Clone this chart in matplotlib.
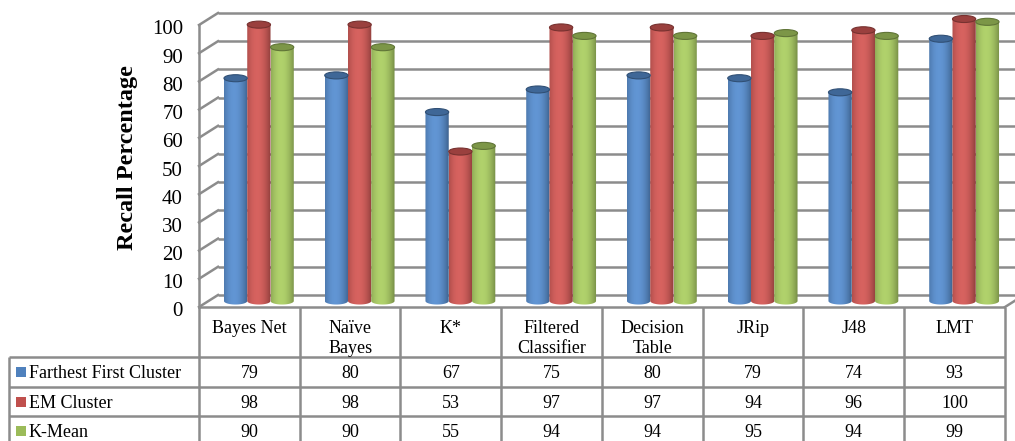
import numpy as np
import matplotlib
matplotlib.use("Agg")
import matplotlib.pyplot as plt
from matplotlib import transforms
from matplotlib.patches import Ellipse, Rectangle, PathPatch
from matplotlib.path import Path
from matplotlib.colors import to_rgb

# data
categories = ["Bayes Net", "Naïve\nBayes", "K*", "Filtered\nClassifier",
              "Decision\nTable", "JRip", "J48", "LMT"]
series_names = ["Farthest First Cluster", "EM Cluster", "K-Mean"]
farthest_first = [79, 80, 67, 75, 80, 79, 74, 93]
em_cluster = [98, 98, 53, 97, 97, 94, 96, 100]
k_mean = [90, 90, 55, 94, 94, 95, 94, 99]
series = [farthest_first, em_cluster, k_mean]
series_colors = ["#4F81BD", "#C0504D", "#9BBB59"]
yticks = list(range(0, 101, 10))

plt.rcParams['font.family'] = ['Liberation Serif', 'DejaVu Serif']

W, H = 1015, 441
fig = plt.figure(figsize=(W / 100, H / 100), dpi=100)

# front face of the 3-D box, in pixels
x0, x1 = 199, 1005
y0, y100 = 307, 25
ax = fig.add_axes([x0 / W, 1 - y0 / H, (x1 - x0) / W, (y0 - y100) / H])
ax.axis('off')

# depth offsets (mid plane for the cylinders, back wall for the grid)
mid = ax.transData + transforms.ScaledTranslation(0.095, 0.06, fig.dpi_scale_trans)
back = ax.transData + transforms.ScaledTranslation(0.19, 0.12, fig.dpi_scale_trans)
ident = transforms.IdentityTransform()

grid_c = "#8c8c8c"
ncat = len(categories)
ax.set_xlim(0, ncat)
ax.set_ylim(0, 100)
fig.canvas.draw()

# back wall grid + side wall diagonals
tick_tr = ax.transData + transforms.ScaledTranslation(-0.16, -0.05, fig.dpi_scale_trans)
for v in yticks:
    ax.plot([0, ncat], [v, v], color=grid_c, lw=1.8, transform=back,
            clip_on=False, zorder=1, solid_capstyle='butt')
    pf = ax.transData.transform((0, v))
    pb = back.transform((0, v))
    ax.plot([pf[0], pb[0]], [pf[1], pb[1]], color=grid_c, lw=1.8,
            transform=ident, clip_on=False, zorder=1)
    ax.text(0, v, str(v), transform=tick_tr, ha='right', va='center', fontsize=15)
# front vertical edge and right floor edge
pa = ax.transData.transform((0, 0))
pt = ax.transData.transform((0, 100))
ax.plot([pa[0], pt[0]], [pa[1], pt[1]], color=grid_c, lw=1.8, transform=ident,
        clip_on=False, zorder=1)
pr = ax.transData.transform((ncat, 0))
prb = back.transform((ncat, 0))
ax.plot([pr[0], prb[0]], [pr[1], prb[1]], color=grid_c, lw=1.8, transform=ident,
        clip_on=False, zorder=1)

# cylinders
bw = 0.231
eh = 2.5
t = np.linspace(0, 1, 64)
s = np.clip(np.cos(np.pi * (t - 0.42) / 1.3), 0, 1) ** 0.8
arc = np.linspace(np.pi, 2 * np.pi, 30)
for j, (vals, col) in enumerate(zip(series, series_colors)):
    base = np.array(to_rgb(col))
    dark = base * 0.62
    light = np.clip(base * 1.04 + 0.06, 0, 1)
    grad = dark[None, :] + (light - dark)[None, :] * s[:, None]
    img = grad[None, :, :]
    for i, v in enumerate(vals):
        cx = i + 0.5 + (j - 1) * bw
        # body outline: straight sides, rounded bottom
        bottom = np.column_stack([cx + bw / 2 * np.cos(arc), eh / 2 * np.sin(arc)])
        verts = np.vstack([[cx - bw / 2, v], bottom, [cx + bw / 2, v],
                           [cx - bw / 2, v]])
        clip = PathPatch(Path(verts, closed=True), transform=mid,
                         facecolor='none', edgecolor='none')
        ax.add_patch(clip)
        im = ax.imshow(img, extent=(cx - bw / 2, cx + bw / 2, -eh / 2, v),
                       aspect='auto', transform=mid, zorder=3,
                       interpolation='bilinear')
        im.set_clip_path(clip)
        im.set_clip_box(fig.bbox)
        ax.add_patch(Ellipse((cx, v), bw, eh, facecolor=base * 0.8,
                             edgecolor=base * 0.62, lw=0.8, transform=mid,
                             clip_on=False, zorder=4))
ax.set_xlim(0, ncat)
ax.set_ylim(0, 100)

fig.text(128 / W, 1 - 158 / H, "Recall Percentage", rotation=90, ha='center',
         va='center', fontsize=17.5, fontweight='bold')

# data table underneath
ov = fig.add_axes([0, 0, 1, 1])
ov.set_xlim(0, W)
ov.set_ylim(H, 0)
ov.axis('off')
ov.patch.set_visible(False)

xs = np.linspace(x0, x1, ncat + 1)
row_y = [357, 387, 416, 446]
tab_kw = dict(color=grid_c, lw=1.8, solid_capstyle='butt')
ov.plot([x0, x1], [y0, y0], **tab_kw)
for yy in row_y[:-1]:
    ov.plot([9, x1], [yy, yy], **tab_kw)
for xx in xs:
    ov.plot([xx, xx], [y0, 446], **tab_kw)
ov.plot([9, 9], [row_y[0], 446], **tab_kw)

for i, lab in enumerate(categories):
    cx = (xs[i] + xs[i + 1]) / 2
    for k, line in enumerate(lab.split("\n")):
        ov.text(cx, 333 + 20 * k, line, ha='center', va='baseline', fontsize=13)

for r, (name, vals, col) in enumerate(zip(series_names, series, series_colors)):
    base_y = row_y[r] + 21
    ov.add_patch(Rectangle((16, row_y[r] + 10), 10, 10, facecolor=col,
                           edgecolor='none'))
    ov.text(29, base_y, name, ha='left', va='baseline', fontsize=13)
    for i, v in enumerate(vals):
        cx = (xs[i] + xs[i + 1]) / 2
        ov.text(cx, base_y, str(v), ha='center', va='baseline', fontsize=13)

fig.savefig("out.png", dpi=100)
